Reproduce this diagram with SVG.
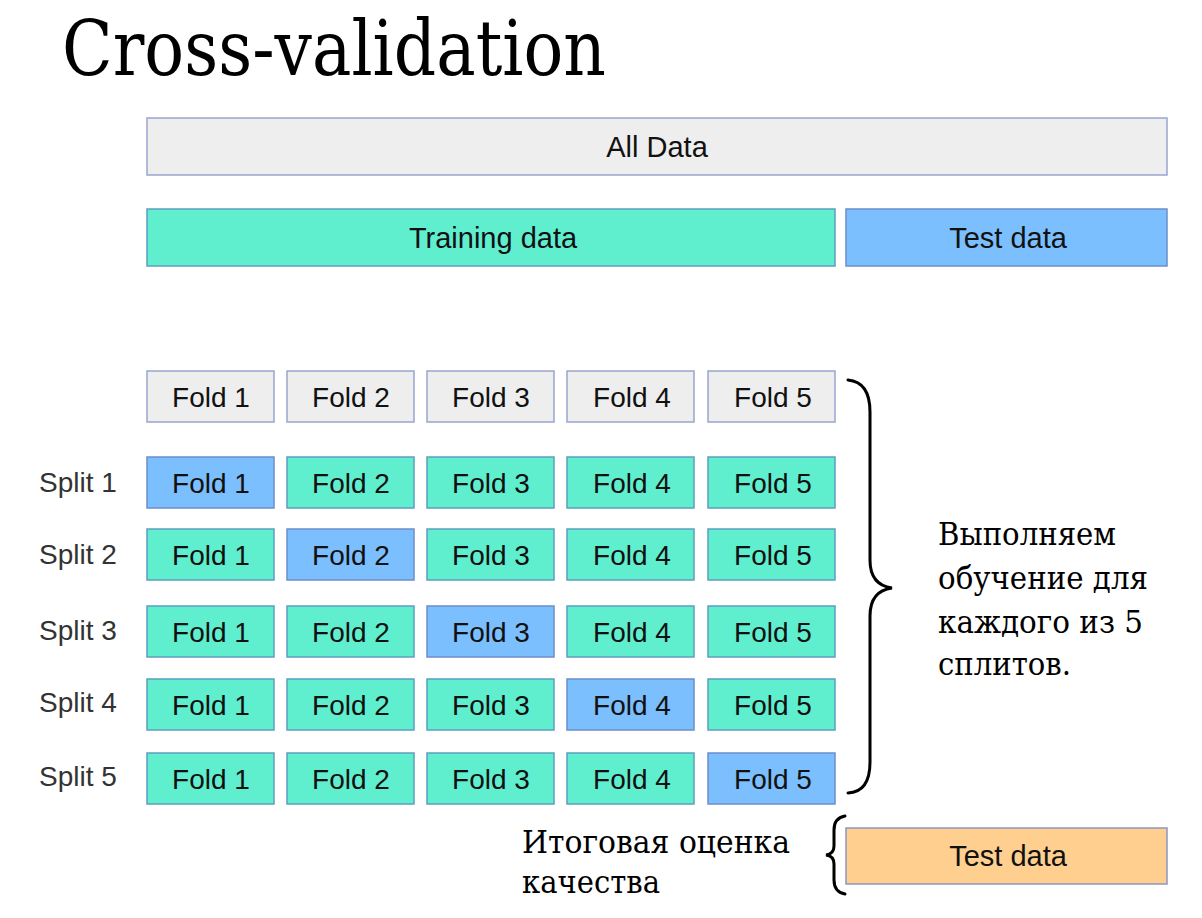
<svg xmlns="http://www.w3.org/2000/svg" width="1202" height="918" viewBox="0 0 1202 918">
<style>
.box{stroke-width:1.5}
.g{fill:#eeeeee;stroke:#9aa5cf}
.t{fill:#5fefcf;stroke:#5c9fbf}
.b{fill:#7bbfff;stroke:#6c8fcb}
.o{fill:#ffcf8f;stroke:#8c96c4}
.lbl{font-family:"Liberation Sans",Arial,sans-serif;font-size:28px;fill:#111;text-anchor:middle;dominant-baseline:central}
.big{font-size:29px}
.sp{font-family:"Liberation Sans",Arial,sans-serif;font-size:28px;fill:#333;dominant-baseline:central}
.serif{font-family:"DejaVu Serif","Liberation Serif",serif;fill:#000}
.brace{fill:none;stroke:#000;stroke-width:3;stroke-linecap:round}
</style>
<rect width="1202" height="918" fill="#fff"/>
<text class="serif" x="62" y="75" font-size="76" textLength="544" lengthAdjust="spacingAndGlyphs" font-family="Liberation Serif">Cross-validation</text>

<g id="all-data"><rect class="box g" x="147" y="118" width="1020" height="57"/><text class="lbl big" x="657" y="147">All Data</text></g>
<g id="training-data"><rect class="box t" x="147" y="209" width="688" height="57"/><text class="lbl big" x="493" y="238">Training data</text></g>
<g id="test-data"><rect class="box b" x="846" y="209" width="321" height="57"/><text class="lbl big" x="1008" y="238">Test data</text></g>

<g id="folds-header">
<rect class="box g" x="147" y="371" width="127" height="51"/><text class="lbl" x="211" y="397">Fold 1</text>
<rect class="box g" x="287" y="371" width="127" height="51"/><text class="lbl" x="351" y="397">Fold 2</text>
<rect class="box g" x="427" y="371" width="127" height="51"/><text class="lbl" x="491" y="397">Fold 3</text>
<rect class="box g" x="567" y="371" width="127" height="51"/><text class="lbl" x="632" y="397">Fold 4</text>
<rect class="box g" x="708" y="371" width="127" height="51"/><text class="lbl" x="773" y="397">Fold 5</text>
</g>

<g id="split1">
<text class="sp" x="39" y="482">Split 1</text>
<rect class="box b" x="147" y="457" width="127" height="51"/><text class="lbl" x="211" y="483">Fold 1</text>
<rect class="box t" x="287" y="457" width="127" height="51"/><text class="lbl" x="351" y="483">Fold 2</text>
<rect class="box t" x="427" y="457" width="127" height="51"/><text class="lbl" x="491" y="483">Fold 3</text>
<rect class="box t" x="567" y="457" width="127" height="51"/><text class="lbl" x="632" y="483">Fold 4</text>
<rect class="box t" x="708" y="457" width="127" height="51"/><text class="lbl" x="773" y="483">Fold 5</text>
</g>
<g id="split2">
<text class="sp" x="39" y="554">Split 2</text>
<rect class="box t" x="147" y="529" width="127" height="51"/><text class="lbl" x="211" y="555">Fold 1</text>
<rect class="box b" x="287" y="529" width="127" height="51"/><text class="lbl" x="351" y="555">Fold 2</text>
<rect class="box t" x="427" y="529" width="127" height="51"/><text class="lbl" x="491" y="555">Fold 3</text>
<rect class="box t" x="567" y="529" width="127" height="51"/><text class="lbl" x="632" y="555">Fold 4</text>
<rect class="box t" x="708" y="529" width="127" height="51"/><text class="lbl" x="773" y="555">Fold 5</text>
</g>
<g id="split3">
<text class="sp" x="39" y="630">Split 3</text>
<rect class="box t" x="147" y="606" width="127" height="51"/><text class="lbl" x="211" y="632">Fold 1</text>
<rect class="box t" x="287" y="606" width="127" height="51"/><text class="lbl" x="351" y="632">Fold 2</text>
<rect class="box b" x="427" y="606" width="127" height="51"/><text class="lbl" x="491" y="632">Fold 3</text>
<rect class="box t" x="567" y="606" width="127" height="51"/><text class="lbl" x="632" y="632">Fold 4</text>
<rect class="box t" x="708" y="606" width="127" height="51"/><text class="lbl" x="773" y="632">Fold 5</text>
</g>
<g id="split4">
<text class="sp" x="39" y="702">Split 4</text>
<rect class="box t" x="147" y="679" width="127" height="51"/><text class="lbl" x="211" y="705">Fold 1</text>
<rect class="box t" x="287" y="679" width="127" height="51"/><text class="lbl" x="351" y="705">Fold 2</text>
<rect class="box t" x="427" y="679" width="127" height="51"/><text class="lbl" x="491" y="705">Fold 3</text>
<rect class="box b" x="567" y="679" width="127" height="51"/><text class="lbl" x="632" y="705">Fold 4</text>
<rect class="box t" x="708" y="679" width="127" height="51"/><text class="lbl" x="773" y="705">Fold 5</text>
</g>
<g id="split5">
<text class="sp" x="39" y="776">Split 5</text>
<rect class="box t" x="147" y="753" width="127" height="51"/><text class="lbl" x="211" y="779">Fold 1</text>
<rect class="box t" x="287" y="753" width="127" height="51"/><text class="lbl" x="351" y="779">Fold 2</text>
<rect class="box t" x="427" y="753" width="127" height="51"/><text class="lbl" x="491" y="779">Fold 3</text>
<rect class="box t" x="567" y="753" width="127" height="51"/><text class="lbl" x="632" y="779">Fold 4</text>
<rect class="box b" x="708" y="753" width="127" height="51"/><text class="lbl" x="773" y="779">Fold 5</text>
</g>

<g id="final-test"><rect class="box o" x="846" y="828" width="321" height="56"/><text class="lbl big" x="1008" y="856">Test data</text></g>

<g id="connectors">
<path class="brace" d="M848,380 Q870,382 870,412 L870,560 Q870,585 892,588 Q870,591 870,616 L870,762 Q870,792 848,793"/>
<path class="brace" d="M845,816 Q834,818 834,830 L834,846 Q834,854 826,855 Q834,856 834,864 L834,880 Q834,892 845,894"/>
</g>

<g id="note-right" class="serif" font-size="31" font-family="Liberation Serif">
<text x="938" y="545" textLength="178" lengthAdjust="spacingAndGlyphs">Выполняем</text>
<text x="938" y="589" textLength="210" lengthAdjust="spacingAndGlyphs">обучение для</text>
<text x="938" y="633" textLength="205" lengthAdjust="spacingAndGlyphs">каждого из 5</text>
<text x="938" y="675" textLength="133" lengthAdjust="spacingAndGlyphs">сплитов.</text>
</g>
<g id="note-bottom" class="serif" font-size="31" font-family="Liberation Serif">
<text x="522" y="853" textLength="268" lengthAdjust="spacingAndGlyphs">Итоговая оценка</text>
<text x="522" y="893" textLength="138" lengthAdjust="spacingAndGlyphs">качества</text>
</g>
</svg>
